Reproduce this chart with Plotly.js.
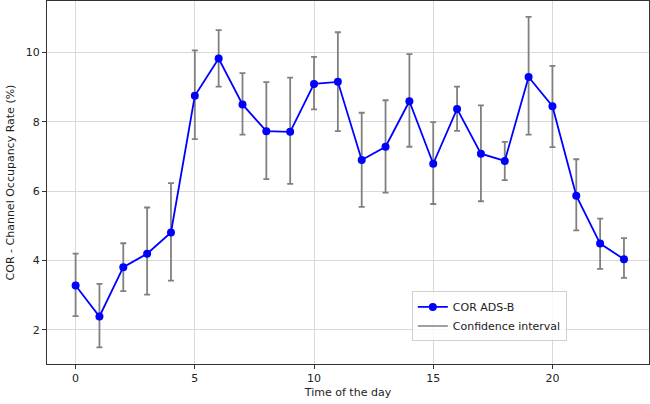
<!DOCTYPE html>
<html>
<head>
<meta charset="utf-8">
<script src="https://cdn.plot.ly/plotly-3.0.1.min.js"></script>
<style>html,body{margin:0;padding:0;background:#fff;}#chart{width:650px;height:404px;}</style>
</head>
<body>
<div id="chart"></div>
<script>
const hours = [0,1,2,3,4,5,6,7,8,9,10,11,12,13,14,15,16,17,18,19,20,21,22,23];
const corValues = [3.28,2.39,3.81,4.20,4.81,8.75,9.82,8.50,7.73,7.71,9.09,9.15,6.90,7.28,8.59,6.79,8.37,7.08,6.87,9.29,8.45,5.87,4.49,4.04];
const ciUpper = [4.20,3.33,4.50,5.53,6.23,10.06,10.64,9.40,9.14,9.27,9.87,10.58,8.26,8.62,9.95,7.99,9.01,8.47,7.42,11.02,9.61,6.92,5.21,4.65];
const ciLower = [2.40,1.50,3.12,3.02,3.42,7.50,9.01,7.63,6.35,6.21,8.36,7.73,5.55,5.96,7.28,5.63,7.74,5.71,6.32,7.63,7.27,4.87,3.76,3.50];
const seriesName = "COR ADS-B";
const ciName = "Confidence interval";
const xTitle = "Time of the day";
const yTitle = "COR - Channel Occupancy Rate (%)";

const errPlus = corValues.map((v,i)=>ciUpper[i]-v);
const errMinus = corValues.map((v,i)=>v-ciLower[i]);

const traces = [
  {
    x: hours, y: corValues, type: 'scatter', mode: 'lines+markers', name: seriesName,
    line: {color: '#0000ff', width: 1.8},
    marker: {color: '#0000ff', size: 8},
    error_y: {type: 'data', symmetric: false, array: errPlus, arrayminus: errMinus,
      color: '#808080', thickness: 1.8, width: 3}
  },
  {
    x: [null], y: [null], type: 'scatter', mode: 'lines', name: ciName,
    line: {color: '#808080', width: 1.5}
  }
];

const axisCommon = {
  showline: true, linecolor: '#333', linewidth: 1, mirror: true,
  showgrid: true, gridcolor: '#d9d9d9', gridwidth: 1,
  ticks: 'outside', ticklen: 4, tickcolor: '#333',
  zeroline: false,
  tickfont: {family: 'DejaVu Sans', size: 11, color: '#222'}
};

const layout = {
  width: 650, height: 404,
  margin: {l: 47, r: 1, t: 1, b: 40},
  paper_bgcolor: '#fff', plot_bgcolor: '#fff',
  showlegend: true,
  legend: {x: 0.606, y: 0.2, xanchor: 'left', yanchor: 'top', itemwidth: 30,
    bgcolor: 'rgba(255,255,255,0.8)', bordercolor: '#d0d0d0', borderwidth: 1,
    font: {family: 'DejaVu Sans', size: 11, color: '#222'}, tracegroupgap: 0},
  xaxis: Object.assign({}, axisCommon, {
    range: [-1.2, 24.05], tickvals: [0,5,10,15,20],
    title: {text: xTitle, font: {family: 'DejaVu Sans', size: 11, color: '#222'}, standoff: 4}
  }),
  yaxis: Object.assign({}, axisCommon, {
    range: [1.02, 11.48], tickvals: [2,4,6,8,10],
    title: {text: yTitle, font: {family: 'DejaVu Sans', size: 11, color: '#222'}, standoff: 8}
  })
};

Plotly.newPlot('chart', traces, layout, {displayModeBar: false, staticPlot: true});
</script>
</body>
</html>
